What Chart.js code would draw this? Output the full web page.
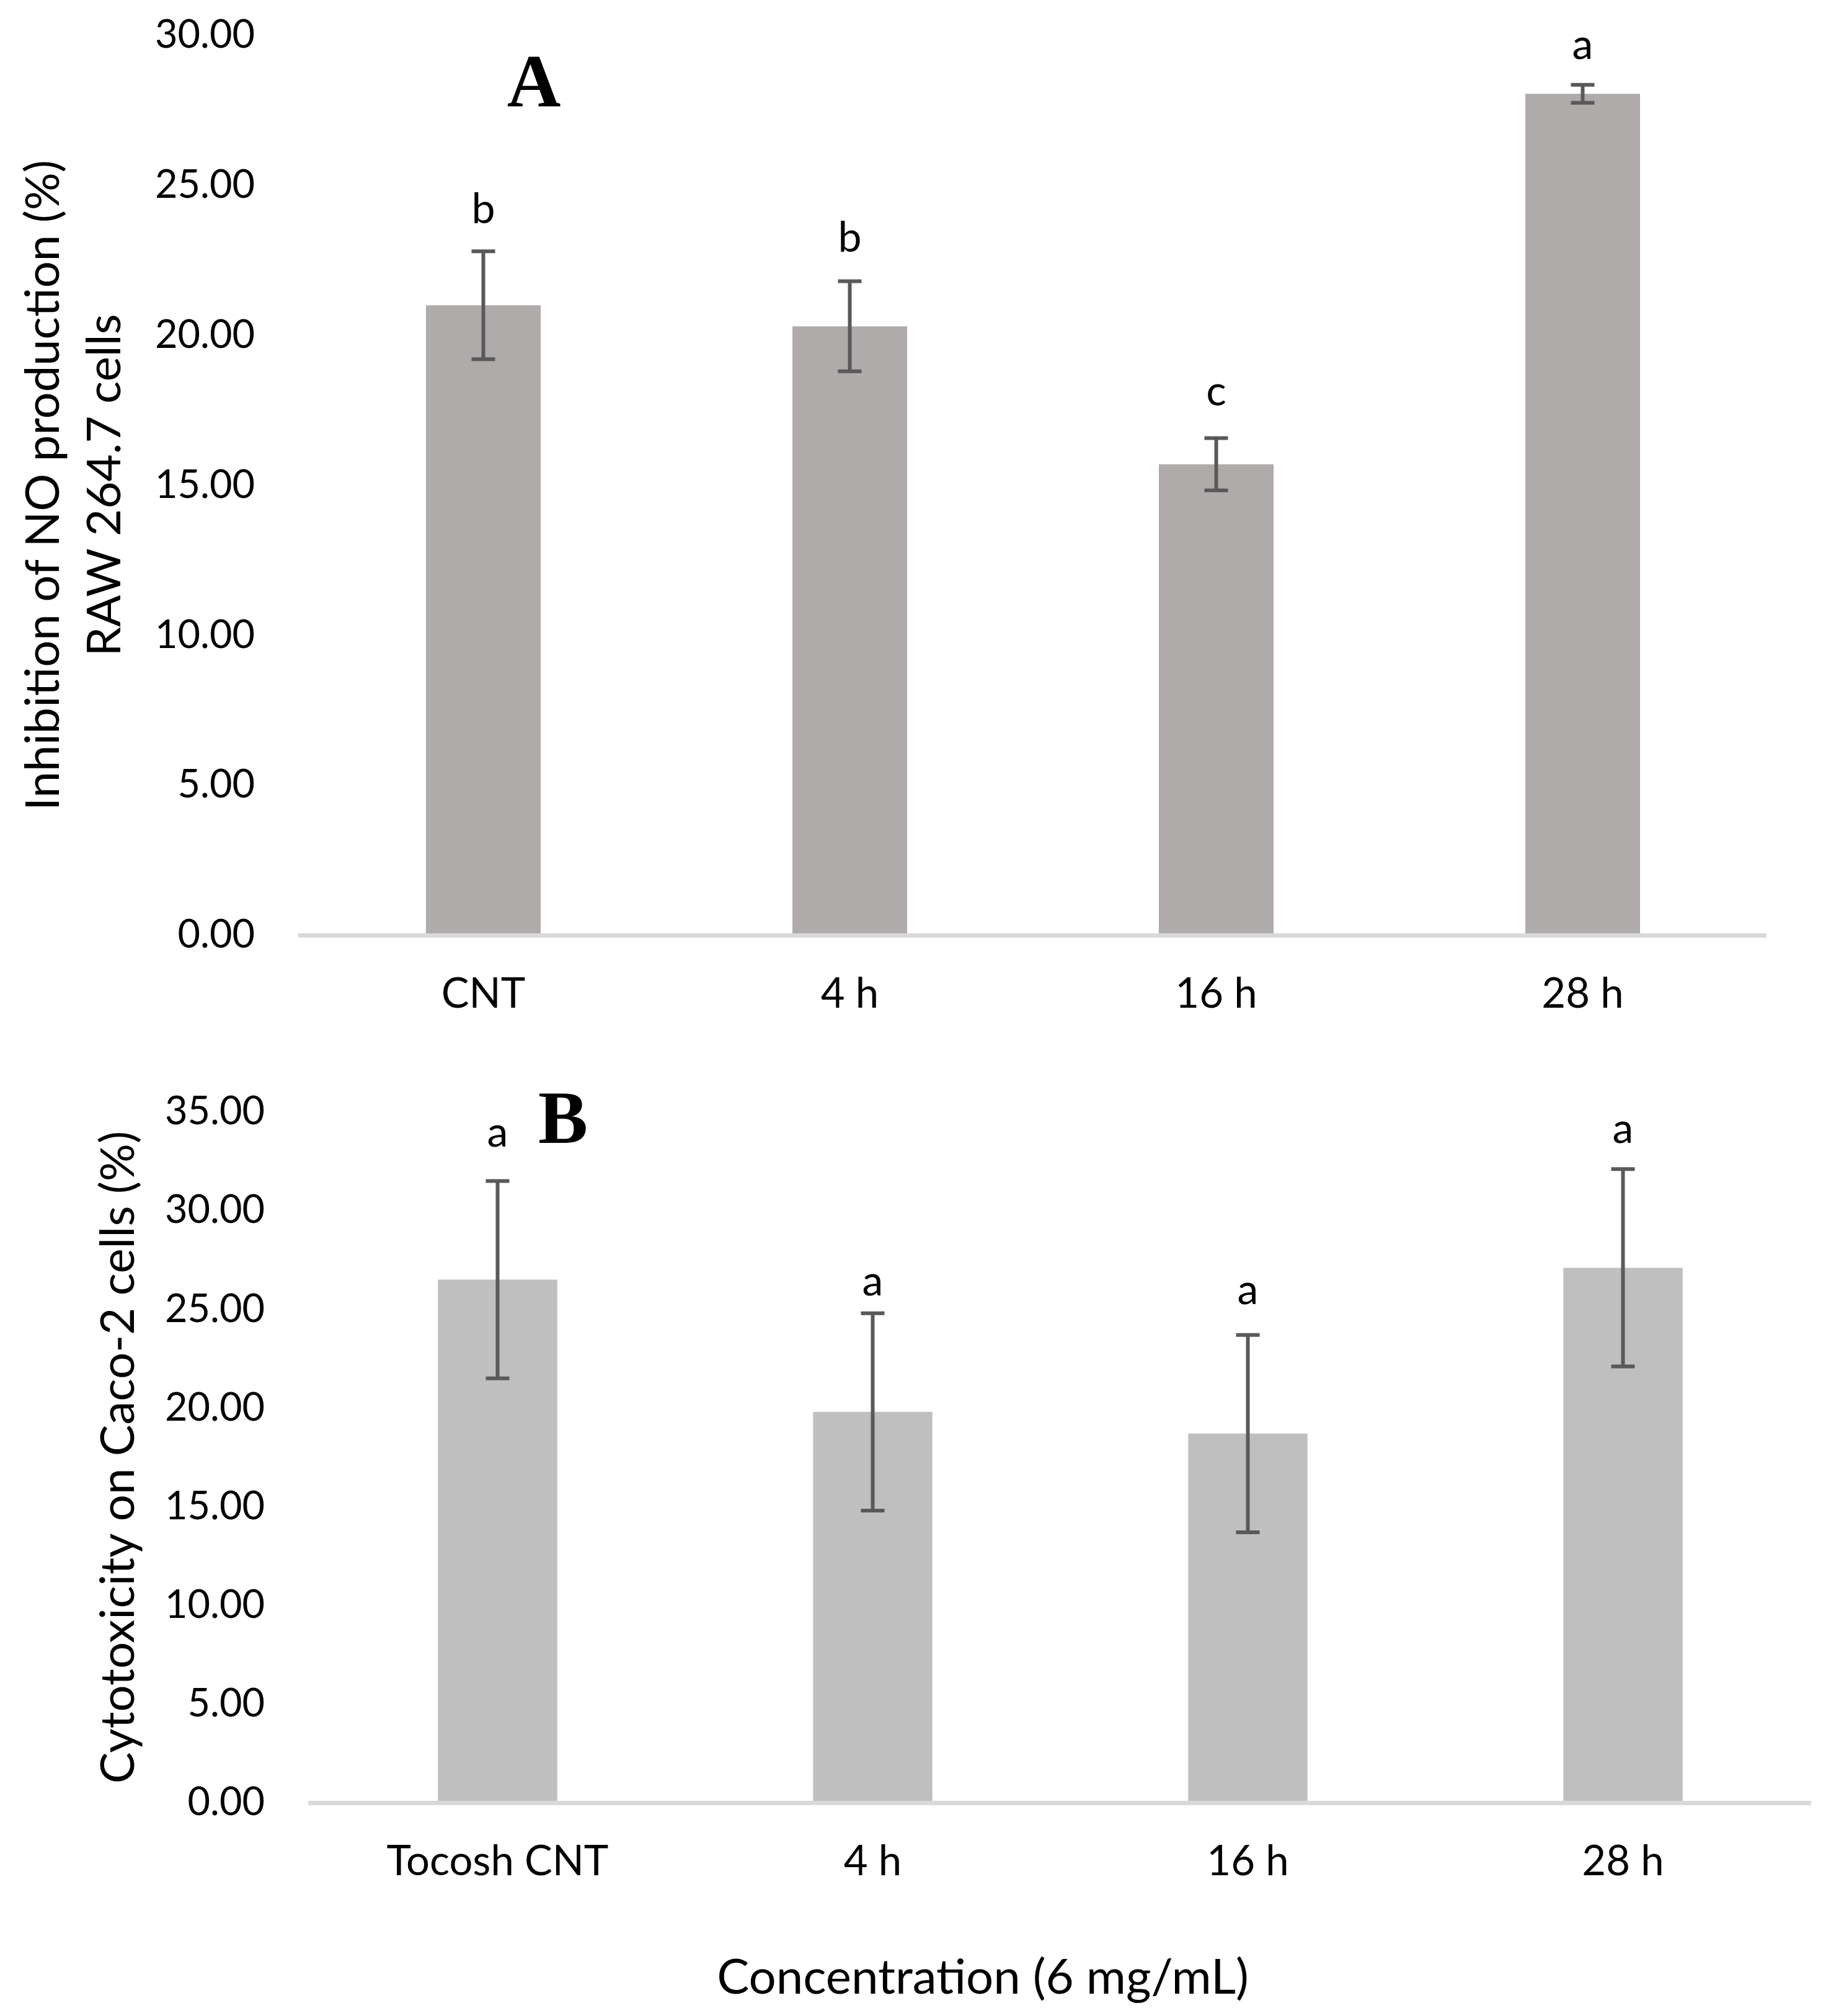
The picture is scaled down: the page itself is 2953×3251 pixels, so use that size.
<!DOCTYPE html>
<html>
<head>
<meta charset="utf-8">
<script src="https://cdn.jsdelivr.net/npm/chart.js@4.4.1/dist/chart.umd.min.js"></script>
<style>
    html, body { margin: 0; padding: 0; background: #fff; }
    .panel { position: absolute; left: 0; width: 2953px; }
    #wrapA { top: 0; height: 1700px; }
    #wrapB { top: 1700px; height: 1551px; }
</style>
</head>
<body>
<div class="panel" id="wrapA"><canvas id="chartA"></canvas></div>
<div class="panel" id="wrapB"><canvas id="chartB"></canvas></div>
<script>
// panel A - NO inhibition, RAW 264.7
const categoriesA = ['CNT', '4 h', '16 h', '28 h'];
const meansA = [21.0, 20.3, 15.7, 28.05];
const errorsA = [1.8, 1.5, 0.87, 0.3];
const lettersA = ['b', 'b', 'c', 'a'];
const yMaxA = 30;

// panel B - cytotoxicity, Caco-2
const categoriesB = ['Tocosh CNT', '4 h', '16 h', '28 h'];
const meansB = [26.5, 19.8, 18.7, 27.1];
const errorsB = [5.0, 5.0, 5.0, 5.0];
const lettersB = ['a', 'a', 'a', 'a'];
const yMaxB = 35;

const tickStep = 5;
const FONT = 'Lato';

// error bars + significance letters, drawn on the y scale
const errorBarPlugin = {
    id: 'errorBars',
    afterDatasetsDraw(chart, args, opts) {
        const ctx = chart.ctx;
        const meta = chart.getDatasetMeta(0);
        const y = chart.scales.y;
        ctx.save();
        meta.data.forEach((bar, i) => {
            const mean = opts.means[i];
            const err = opts.errors[i];
            const yTop = y.getPixelForValue(mean + err);
            const yBot = y.getPixelForValue(mean - err);
            ctx.strokeStyle = '#595959';
            ctx.lineWidth = 6;
            ctx.beginPath();
            ctx.moveTo(bar.x, yTop);
            ctx.lineTo(bar.x, yBot);
            ctx.moveTo(bar.x - 19, yTop);
            ctx.lineTo(bar.x + 19, yTop);
            ctx.moveTo(bar.x - 19, yBot);
            ctx.lineTo(bar.x + 19, yBot);
            ctx.stroke();

            // letters sit a little unevenly above the caps in the original
            ctx.fillStyle = '#000';
            ctx.font = `68px ${FONT}`;
            ctx.textAlign = 'center';
            ctx.textBaseline = 'alphabetic';
            ctx.fillText(opts.letters[i], bar.x, yTop - opts.gaps[i]);
        });
        ctx.restore();
    }
};

// panel letter and free text labels
const textPlugin = {
    id: 'freeText',
    afterDraw(chart, args, opts) {
        const ctx = chart.ctx;
        ctx.save();
        ctx.textAlign = 'center';
        ctx.textBaseline = 'middle';
        opts.items.forEach(t => {
            ctx.font = t.font;
            ctx.fillStyle = '#000';
            ctx.fillText(t.text, t.x, t.y);
        });
        ctx.restore();
    }
};

function makeConfig(p) {
    return {
        type: 'bar',
        data: {
            labels: p.categories,
            datasets: [{
                data: p.means,
                backgroundColor: p.color,
                categoryPercentage: 1,
                barPercentage: p.barPct
            }]
        },
        plugins: [errorBarPlugin, textPlugin],
        options: {
            responsive: true,
            maintainAspectRatio: false,
            devicePixelRatio: 1,
            animation: false,
            layout: {
                padding: { top: p.padTop, right: p.padRight, left: 0, bottom: 0 }
            },
            scales: {
                x: {
                    grid: { display: false, drawTicks: false },
                    border: { display: true, color: '#d9d9d9', width: 7, z: 1 },
                    ticks: {
                        color: '#000',
                        padding: 55,
                        font: { family: FONT, size: 67, lineHeight: 1.2 }
                    },
                    afterFit(scale) { scale.height = p.xHeight; }
                },
                y: {
                    min: 0,
                    max: p.yMax,
                    grid: { display: false, drawTicks: false },
                    border: { display: false },
                    ticks: {
                        stepSize: tickStep,
                        color: '#000',
                        padding: 73,
                        font: { family: FONT, size: 63 },
                        callback: v => v.toFixed(2)
                    },
                    title: {
                        display: true,
                        text: p.yTitle,
                        color: '#000',
                        padding: { top: p.yTitlePad, bottom: 0 },
                        font: { family: FONT, size: 76, lineHeight: 1.3 }
                    },
                    afterFit(scale) {
                        scale.width = p.yWidth;
                        // let layout padding alone decide the plot top
                        scale.paddingTop = 0;
                        scale.paddingBottom = 0;
                    }
                }
            },
            plugins: {
                legend: { display: false },
                tooltip: { enabled: false },
                errorBars: {
                    means: p.means,
                    errors: p.errors,
                    letters: p.letters,
                    gaps: p.letterGaps
                },
                freeText: { items: p.texts }
            }
        }
    };
}

new Chart(document.getElementById('chartA'), makeConfig({
    categories: categoriesA,
    means: meansA,
    errors: errorsA,
    letters: lettersA,
    yMax: yMaxA,
    color: '#afabab',
    barPct: 0.313,
    padTop: 57,
    padRight: 105,
    xHeight: 192,
    yWidth: 484,
    yTitle: ['Inhibition of NO production (%)', 'RAW 264.7 cells'],
    yTitlePad: 21,
    letterGaps: [45, 48, 53, 42],
    texts: [
        { text: 'A', x: 861, y: 140, font: 'bold 120px "Liberation Serif"' }
    ]
}));

new Chart(document.getElementById('chartB'), makeConfig({
    categories: categoriesB,
    means: meansB,
    errors: errorsB,
    letters: lettersB,
    yMax: yMaxB,
    color: '#bfbfbf',
    barPct: 0.318,
    padTop: 93,
    padRight: 33,
    xHeight: 344,
    yWidth: 500,
    yTitle: 'Cytotoxicity on Caco-2 cells (%)',
    yTitlePad: 142,
    letterGaps: [55, 29, 50, 42],
    texts: [
        { text: 'B', x: 908, y: 112, font: 'bold 120px "Liberation Serif"' },
        { text: 'Concentration (6 mg/mL)', x: 1585, y: 1490, font: `78px ${FONT}` }
    ]
}));
</script>
</body>
</html>
